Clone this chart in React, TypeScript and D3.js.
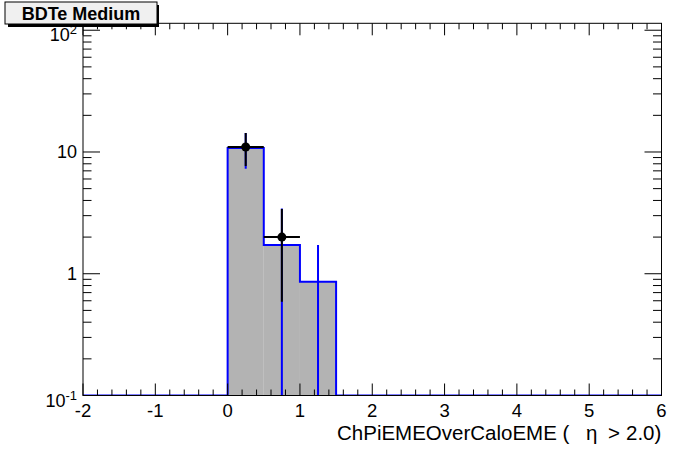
import React from "react";
import * as d3 from "d3";

const binEdges = [0, 0.5, 1.0, 1.5];
const histValues = [10.8, 1.72, 0.86];
const histErrors = [3.5, 1.72, 0.86];
const dataX = [0.25, 0.75];
const dataY = [11, 2];
const dataErr = [3.32, 1.41];
const xTicks = [-2, -1, 0, 1, 2, 3, 4, 5, 6];
const yMajor = [0.1, 1, 10, 100];

const W = 696, H = 472;
const L = 83, R = 661.5, T = 23.3, B = 395.5;
const FONT = "'Liberation Sans', Arial, Helvetica, sans-serif";

export default function App() {
  const x = d3.scaleLinear().domain([-2, 6]).range([L, R]);
  const yMin = 0.1, yMax = 114;
  const y = d3.scaleLog().domain([yMin, yMax]).range([B, T]);
  const cy = (v: number) => y(Math.max(yMin, Math.min(yMax, v)));

  const pts: [number, number][] = [[x(-2), B], [x(binEdges[0]), B]];
  histValues.forEach((v, i) => {
    pts.push([x(binEdges[i]), cy(v)]);
    pts.push([x(binEdges[i + 1]), cy(v)]);
  });
  pts.push([x(binEdges[binEdges.length - 1]), B]);
  pts.push([x(6), B]);
  const outline = d3.line()(pts) || "";

  const xMinor: number[] = [];
  for (let v = -2; v <= 6.0001; v += 0.2) xMinor.push(Math.round(v * 10) / 10);
  const yMinor: number[] = [];
  for (let e = -1; e <= 2; e++) for (let k = 2; k <= 9; k++) {
    const v = k * Math.pow(10, e);
    if (v <= yMax) yMinor.push(v);
  }

  const yLabel = (v: number) => {
    const yy = y(v);
    if (v === 1 || v === 10) {
      return (
        <text key={v} x={77} y={yy + 6.5} textAnchor="end" fontSize={18} fontFamily={FONT}>{v}</text>
      );
    }
    const exp = v === 0.1 ? "-1" : "2";
    return (
      <text key={v} x={77} y={yy + 11} textAnchor="end" fontSize={18} fontFamily={FONT}>
        10<tspan fontSize={13} dy={-7}>{exp}</tspan>
      </text>
    );
  };

  return (
    <svg width={W} height={H} style={{ position: "absolute", left: 0, top: 0, background: "#fff" }}>
      <rect x={0} y={0} width={W} height={H} fill="#fff" />
      <defs>
        <clipPath id="frame"><rect x={L} y={T} width={R - L} height={B - T} /></clipPath>
      </defs>
      <g clipPath="url(#frame)">
        {histValues.map((v, i) => (
          <rect key={i} x={x(binEdges[i])} y={cy(v)} width={x(binEdges[i + 1]) - x(binEdges[i])} height={B - cy(v)} fill="#b3b3b3" />
        ))}
        <path d={outline} fill="none" stroke="#0000ff" strokeWidth={2} />
        {histValues.map((v, i) => {
          const xc = x((binEdges[i] + binEdges[i + 1]) / 2);
          return <line key={i} x1={xc} x2={xc} y1={cy(v - histErrors[i])} y2={cy(v + histErrors[i])} stroke="#0000ff" strokeWidth={2} />;
        })}
        {dataX.map((xv, i) => (
          <g key={i}>
            <line x1={x(xv)} x2={x(xv)} y1={cy(dataY[i] - dataErr[i])} y2={cy(dataY[i] + dataErr[i])} stroke="#000" strokeWidth={2} />
            <line x1={x(xv - 0.25)} x2={x(xv + 0.25)} y1={cy(dataY[i])} y2={cy(dataY[i])} stroke="#000" strokeWidth={2} />
            <circle cx={x(xv)} cy={cy(dataY[i])} r={4.5} fill="#000" />
          </g>
        ))}
      </g>
      <rect x={L} y={T} width={R - L} height={B - T} fill="none" stroke="#000" strokeWidth={1} />
      {xMinor.map((v) => {
        const major = Math.abs(v - Math.round(v)) < 1e-6;
        const len = major ? 12 : 6;
        const xx = x(v);
        return (
          <g key={"xt" + v}>
            <line x1={xx} x2={xx} y1={B} y2={B - len} stroke="#000" />
            <line x1={xx} x2={xx} y1={T} y2={T + len} stroke="#000" />
          </g>
        );
      })}
      {yMajor.concat(yMinor).filter((v) => v <= yMax).map((v) => {
        const major = yMajor.includes(v);
        const len = major ? 17 : 8.5;
        const yy = y(v);
        return (
          <g key={"yt" + v}>
            <line x1={L} x2={L + len} y1={yy} y2={yy} stroke="#000" />
            <line x1={R} x2={R - len} y1={yy} y2={yy} stroke="#000" />
          </g>
        );
      })}
      {xTicks.map((v) => (
        <text key={"xl" + v} x={x(v)} y={417} textAnchor="middle" fontSize={18.5} fontFamily={FONT}>{v}</text>
      ))}
      {yMajor.map(yLabel)}
      <text y={440} fontSize={20.5} fontFamily={FONT}>
        <tspan x={337}>ChPiEMEOverCaloEME (</tspan>
        <tspan x={586}>η</tspan>
        <tspan x={608}>&gt;</tspan>
        <tspan x={626}>2.0)</tspan>
      </text>
      <rect x={8} y={5} width={151} height={22} fill="#000" />
      <rect x={5} y={2} width={152} height={22} fill="#f0f0f0" stroke="#000" strokeWidth={1} />
      <text x={81} y={20} textAnchor="middle" fontSize={18} fontWeight="bold" fontFamily={FONT}>BDTe Medium</text>
    </svg>
  );
}
